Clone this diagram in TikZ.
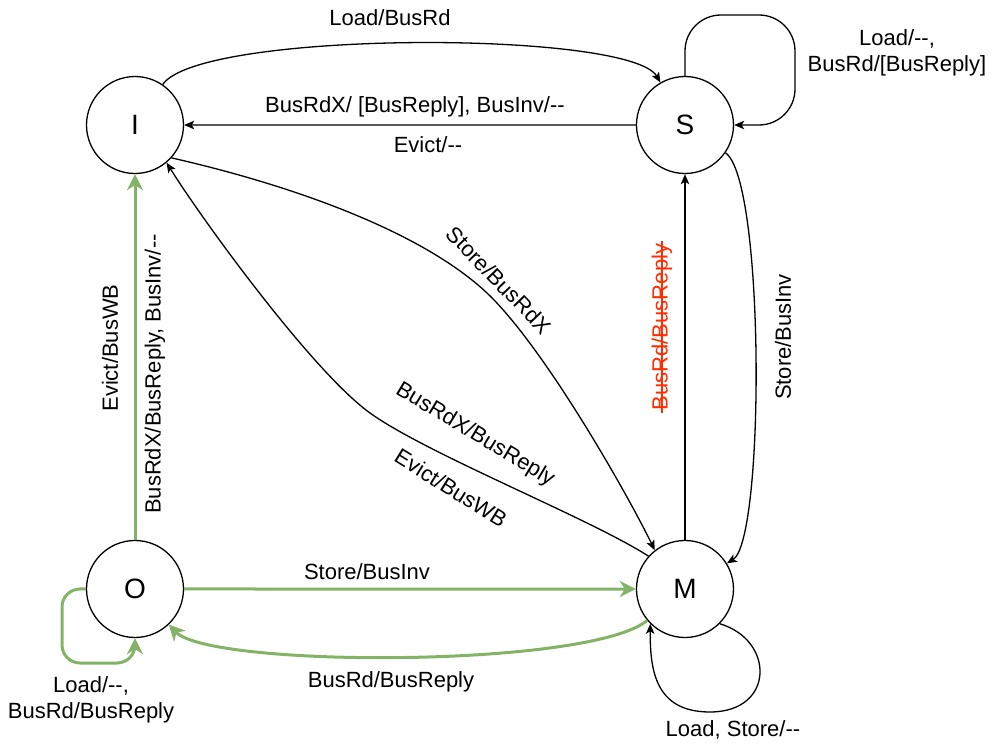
\documentclass[tikz,border=0pt]{standalone}
\usepackage{fontspec}
\setmainfont{Liberation Sans}
\usetikzlibrary{matrix,arrows.meta,positioning}
\definecolor{drawgreen}{HTML}{82B366}
\definecolor{strikered}{HTML}{FF2D00}
\newcommand{\nodash}{\mbox{-}\mbox{-}}

\begin{document}
\begin{tikzpicture}[x=0.5pt,y=-0.5pt,>={Stealth[length=5pt,width=4.2pt,inset=1.2pt]},->,line width=0.65pt,
lbl/.style={font=\fontsize{11}{13}\selectfont, inner sep=1pt, align=center},
green edge/.style={draw=drawgreen, line width=1.5pt, -{Stealth[length=8pt,width=8pt,inset=2.5pt]}}]
\useasboundingbox (0,0) rectangle (993,744);
\matrix at (410,357) [matrix of nodes,
column sep={275pt,between origins},
row sep={232pt,between origins},
nodes={circle, draw, minimum size=48.5pt, inner sep=0pt, fill=white, font=\fontsize{14}{16}\selectfont}]
{
|(I)| I & |(S)| S \\
|(O)| O & |(M)| M \\
};
\begin{scope}[every node/.style={lbl}]
% black transitions
\draw (I) .. controls (200,30) and (630,30) .. (S);
\draw (S) -- (I);
\draw[rounded corners=18pt] (S.north) |- (795,15) |- (S.east);
\draw (S) .. controls (765,180) and (765,540) .. (M);
\draw (M) -- (S);
\draw (I.-42) .. controls (291,185) and (421,231) .. (487,293)
  .. controls (545,348) and (629,497) .. (M.128);
\draw (M.138) .. controls (589,518) and (427,454) .. (370,413)
  .. controls (313,372) and (203,221) .. (I.-50);
\draw (M.-45) .. controls (775,640) and (775,712) .. (710,712)
  .. controls (655,712) and (650,670) .. (M.-135);
% green transitions
\draw[green edge] (O) -- (I);
\draw[green edge] (O) -- (M);
\draw[green edge] (M) .. controls (590,668) and (210,668) .. (O);
\draw[green edge, rounded corners=9pt] (O.west) -| (62,663) -| (O.south);
% labels
\node (l_load) at (390,18) {Load/BusRd};
\node (l_rdx) at (415,107) {BusRdX/ [BusReply], BusInv/\nodash};
\node (l_evs) at (428,145) {Evict/\nodash};
\node (l_sloop) at (897,53) {Load/\nodash,\\BusRd/[BusReply]};
\node[rotate=90] (l_sinv) at (783,337) {Store/BusInv};
\node[rotate=90, text=strikered] (l_red) at (662,327) {BusRd/BusReply};
\draw[-, strikered, line width=0.6pt] (l_red.west) -- (l_red.east);
\node[rotate=-46] (l_store) at (499,280) {Store/BusRdX};
\node[rotate=-31] (l_mrdx) at (475,435) {BusRdX/BusReply};
\node[rotate=-32] (l_mwb) at (451,488) {Evict/BusWB};
\node[rotate=90] (l_owb) at (110,348) {Evict/BusWB};
\node[rotate=90] (l_ordx) at (155,374) {BusRdX/BusReply, BusInv/\nodash};
\node (l_oinv) at (367,572) {Store/BusInv};
\node (l_mrd) at (391,682) {BusRd/BusReply};
\node (l_oloop) at (91,700) {Load/\nodash,\\BusRd/BusReply};
\node (l_mloop) at (733,730) {Load, Store/\nodash};
\end{scope}
\end{tikzpicture}
\end{document}
